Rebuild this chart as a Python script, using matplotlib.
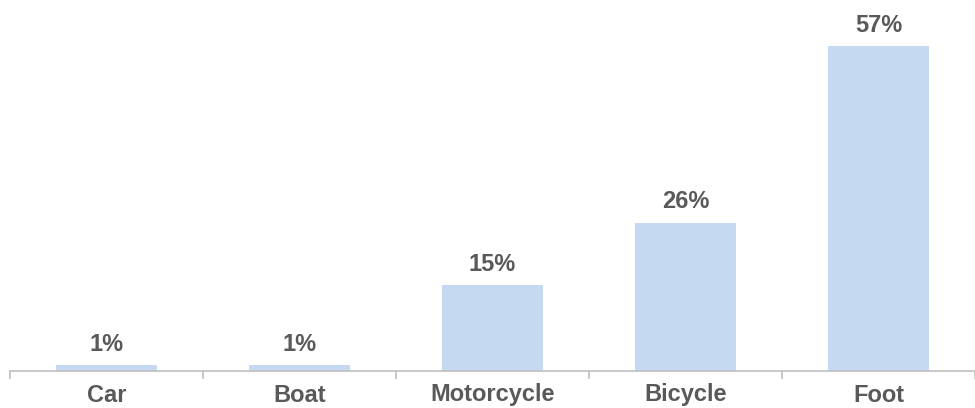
import matplotlib
matplotlib.use("Agg")
import matplotlib.pyplot as plt
import numpy as np

# dati
categories = ["Car", "Boat", "Motorcycle", "Bicycle", "Foot"]
values = [1, 1, 15, 26, 57]
value_labels = ["1%", "1%", "15%", "26%", "57%"]

plt.rcParams['font.family'] = ['Liberation Sans', 'DejaVu Sans']

fig = plt.figure(figsize=(9.75, 4.08), dpi=100)
ax = fig.add_axes([10 / 975, 37 / 408, 965 / 975, 371 / 408])

x = np.arange(len(categories))
bars = ax.bar(x, values, width=0.52, color='#C5D9F1')

for xi, v, lab in zip(x, values, value_labels):
    ax.text(xi, v + 1.6, lab, ha='center', va='bottom', fontsize=17,
            fontweight='bold', color='#595959')

ax.set_xlim(-0.5, len(categories) - 0.5)
ax.set_ylim(0, 65)
ax.set_yticks([])
ax.set_xticks(x)
ax.set_xticklabels(categories, fontsize=17, fontweight='bold', color='#595959')
ax.tick_params(axis='x', length=0, pad=9)
# piccoli tick ai bordi delle categorie
ax.set_xticks(np.arange(len(categories) + 1) - 0.5, minor=True)
ax.tick_params(axis='x', which='minor', length=6, color='#BFBFBF', width=1.2)

for side in ['top', 'right', 'left']:
    ax.spines[side].set_visible(False)
ax.spines['bottom'].set_color('#BFBFBF')
ax.spines['bottom'].set_linewidth(1.2)

fig.savefig("out.png", dpi=100)
